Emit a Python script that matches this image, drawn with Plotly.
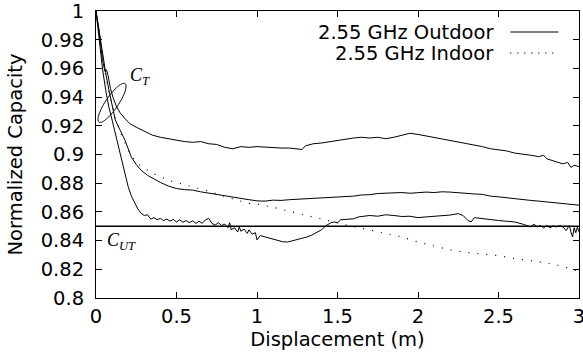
import numpy as np
import plotly.graph_objects as go

# ---------------- data ----------------
out_top_x = [0, 0.02, 0.04, 0.055, 0.065, 0.075, 0.09, 0.105, 0.125, 0.15, 0.18, 0.21, 0.25, 0.3, 0.35, 0.4,
             0.45, 0.5, 0.55, 0.6, 0.65, 0.7, 0.75, 0.8, 0.85, 0.9, 0.95, 1.0, 1.05, 1.1, 1.15, 1.2, 1.25,
             1.28, 1.3, 1.35, 1.4, 1.45, 1.5, 1.55, 1.6, 1.65, 1.7, 1.75, 1.8, 1.85, 1.9, 1.95, 2.0, 2.05,
             2.1, 2.15, 2.2, 2.25, 2.3, 2.35, 2.4, 2.45, 2.5, 2.55, 2.6, 2.65, 2.7, 2.75, 2.78, 2.8, 2.85,
             2.9, 2.93, 2.95, 2.97, 3.0]
out_top_y = [1.0, 0.985, 0.966, 0.958, 0.959, 0.955, 0.946, 0.940, 0.934, 0.929, 0.925, 0.9215, 0.919, 0.916,
             0.9135, 0.912, 0.911, 0.9095, 0.909, 0.9085, 0.909, 0.9075, 0.907, 0.905, 0.904, 0.9055, 0.905,
             0.9055, 0.905, 0.905, 0.9045, 0.9045, 0.904, 0.9035, 0.906, 0.9075, 0.908, 0.909, 0.910, 0.9105,
             0.9115, 0.912, 0.9115, 0.912, 0.911, 0.912, 0.9135, 0.9148, 0.914, 0.913, 0.912, 0.9105, 0.910,
             0.909, 0.9075, 0.9065, 0.9055, 0.904, 0.9035, 0.9025, 0.901, 0.9005, 0.8995, 0.8985, 0.8995,
             0.897, 0.8955, 0.8935, 0.8945, 0.891, 0.8925, 0.8915]

out_mid_x = [0, 0.02, 0.04, 0.06, 0.08, 0.1, 0.12, 0.15, 0.18, 0.2, 0.22, 0.25, 0.28, 0.32, 0.36, 0.4, 0.45,
             0.5, 0.55, 0.6, 0.65, 0.7, 0.75, 0.8, 0.85, 0.9, 0.95, 1.0, 1.05, 1.1, 1.15, 1.2, 1.25, 1.3,
             1.35, 1.4, 1.45, 1.5, 1.55, 1.6, 1.65, 1.7, 1.75, 1.8, 1.85, 1.9, 1.95, 2.0, 2.05, 2.1, 2.15,
             2.2, 2.25, 2.3, 2.35, 2.4, 2.45, 2.5, 2.55, 2.6, 2.65, 2.7, 2.75, 2.8, 2.85, 2.9, 2.95, 3.0]
out_mid_y = [1.0, 0.985, 0.97, 0.957, 0.945, 0.935, 0.924, 0.917, 0.910, 0.904, 0.898, 0.893, 0.889, 0.8855,
             0.8828, 0.8805, 0.878, 0.8763, 0.8755, 0.8752, 0.874, 0.873, 0.8725, 0.8715, 0.870, 0.869,
             0.8685, 0.8677, 0.8675, 0.8682, 0.868, 0.8685, 0.8688, 0.869, 0.8692, 0.8698, 0.8702, 0.8705,
             0.8708, 0.871, 0.8718, 0.872, 0.8728, 0.8729, 0.8732, 0.8735, 0.873, 0.8735, 0.8738, 0.8735,
             0.874, 0.8738, 0.8732, 0.8728, 0.8725, 0.8722, 0.871, 0.8705, 0.8698, 0.869, 0.8685, 0.868,
             0.8675, 0.867, 0.8662, 0.8655, 0.8652, 0.8647]

out_low_x = [0, 0.02, 0.04, 0.06, 0.08, 0.1, 0.115, 0.13, 0.145, 0.16, 0.18, 0.2, 0.22, 0.24, 0.26, 0.28, 0.3,
             0.32, 0.34, 0.36, 0.38, 0.4, 0.42, 0.44, 0.46, 0.48, 0.5, 0.52, 0.54, 0.56, 0.58, 0.6, 0.62,
             0.64, 0.66, 0.68, 0.7, 0.72, 0.74, 0.76, 0.78, 0.8, 0.82, 0.83, 0.84, 0.86, 0.88, 0.89, 0.9,
             0.92, 0.94, 0.95, 0.97, 0.99, 1.0, 1.02, 1.05, 1.08, 1.1, 1.13, 1.16, 1.19, 1.22, 1.25, 1.28,
             1.31, 1.34, 1.37, 1.4, 1.43, 1.46, 1.48, 1.5, 1.52, 1.55, 1.58, 1.6, 1.63, 1.66, 1.7, 1.75,
             1.8, 1.85, 1.9, 1.95, 2.0, 2.05, 2.1, 2.15, 2.2, 2.25, 2.28, 2.31, 2.33, 2.35, 2.38, 2.42,
             2.46, 2.5, 2.55, 2.6, 2.65, 2.68, 2.7, 2.72, 2.74, 2.76, 2.78, 2.8, 2.82, 2.84, 2.86, 2.88,
             2.9, 2.92, 2.94, 2.95, 2.96, 2.97, 2.98, 2.99, 3.0]
out_low_y = [1.0, 0.98, 0.96, 0.945, 0.933, 0.924, 0.917, 0.910, 0.902, 0.894, 0.885, 0.8775, 0.871, 0.866,
             0.862, 0.859, 0.8575, 0.858, 0.855, 0.856, 0.8545, 0.8555, 0.854, 0.855, 0.8535, 0.8548, 0.853,
             0.8545, 0.8528, 0.854, 0.8525, 0.8538, 0.852, 0.8535, 0.852, 0.8545, 0.8555, 0.852, 0.8508,
             0.8525, 0.8505, 0.8515, 0.849, 0.8525, 0.8475, 0.849, 0.846, 0.8495, 0.8465, 0.848, 0.845,
             0.8475, 0.8445, 0.8455, 0.8405, 0.8435, 0.8425, 0.8418, 0.8412, 0.8403, 0.8392, 0.839, 0.8398,
             0.8405, 0.8414, 0.8425, 0.8438, 0.8455, 0.8475, 0.8505, 0.8525, 0.853, 0.8525, 0.8545, 0.8548,
             0.8555, 0.8552, 0.8565, 0.8568, 0.8575, 0.857, 0.858, 0.8575, 0.8568, 0.857, 0.856, 0.8565,
             0.857, 0.857, 0.8578, 0.8588, 0.8575, 0.854, 0.853, 0.856, 0.8555, 0.855, 0.8545, 0.854,
             0.8535, 0.853, 0.8515, 0.8505, 0.8495, 0.8515, 0.8495, 0.8505, 0.8488, 0.8505, 0.849, 0.8502,
             0.8495, 0.8505, 0.8495, 0.847, 0.8505, 0.846, 0.8425, 0.849, 0.8455, 0.8495, 0.846]

indoor_x = [0, 0.02, 0.04, 0.06, 0.08, 0.1, 0.12, 0.15, 0.18, 0.22, 0.26, 0.3, 0.35, 0.4, 0.45, 0.5, 0.55, 0.6,
            0.65, 0.7, 0.75, 0.8, 0.85, 0.9, 0.95, 1.0, 1.1, 1.2, 1.3, 1.4, 1.5, 1.6, 1.7, 1.8, 1.9, 2.0,
            2.1, 2.2, 2.3, 2.4, 2.5, 2.6, 2.7, 2.8, 2.9, 3.0]
indoor_y = [1.0, 0.984, 0.968, 0.955, 0.944, 0.934, 0.925, 0.916, 0.908, 0.899, 0.8935, 0.8905, 0.887, 0.8845,
            0.882, 0.8805, 0.879, 0.8775, 0.8765, 0.8745, 0.8725, 0.8707, 0.869, 0.8675, 0.866, 0.8655,
            0.8632, 0.8605, 0.8577, 0.8548, 0.852, 0.8496, 0.8475, 0.8452, 0.8425, 0.839, 0.8365, 0.8335,
            0.8318, 0.8305, 0.8295, 0.8275, 0.8262, 0.8245, 0.822, 0.8185]

c_ut = 0.85
series_names = ["2.55 GHz Outdoor", "2.55 GHz Indoor"]
x_tickvals = [0, 0.5, 1, 1.5, 2, 2.5, 3]
x_ticktext = ["0", "0.5", "1", "1.5", "2", "2.5", "3"]
y_tickvals = [0.8, 0.82, 0.84, 0.86, 0.88, 0.9, 0.92, 0.94, 0.96, 0.98, 1.0]
y_ticktext = ["0.8", "0.82", "0.84", "0.86", "0.88", "0.9", "0.92", "0.94", "0.96", "0.98", "1"]

FONT = "DejaVu Sans"
FS = 19.5

fig = go.Figure()
for xs, ys in [(out_top_x, out_top_y), (out_mid_x, out_mid_y), (out_low_x, out_low_y)]:
    fig.add_trace(go.Scatter(x=xs, y=ys, mode="lines", line=dict(color="black", width=1),
                             showlegend=False, hoverinfo="skip"))
fig.add_trace(go.Scatter(x=indoor_x, y=indoor_y, mode="lines",
                         line=dict(color="black", width=1.2, dash="1px,8px"),
                         showlegend=False, hoverinfo="skip"))

fig.add_hline(y=c_ut, line=dict(color="black", width=1.5))

# ellipse marking C_T (annotation)
px_per_x = 482.3 / 3.0
px_per_y = 286.7 / 0.2
cx, cy = 0.0995, 0.936
a, b, th = 23.2, 6.3, np.deg2rad(55.9)
t = np.linspace(0, 2 * np.pi, 73)
ex = a * np.cos(t) * np.cos(th) - b * np.sin(t) * np.sin(th)
ey = a * np.cos(t) * np.sin(th) + b * np.sin(t) * np.cos(th)
pts = [(cx + u / px_per_x, cy + v / px_per_y) for u, v in zip(ex, ey)]
path = "M " + " L ".join(f"{p[0]:.5f},{p[1]:.5f}" for p in pts) + " Z"
fig.add_shape(type="path", path=path, xref="x", yref="y", line=dict(color="black", width=1))

fig.add_annotation(x=0.197, y=0.9547, xref="x", yref="y", xanchor="left", yanchor="middle",
                   text="<i>C</i><sub><i>T</i></sub>", showarrow=False,
                   font=dict(family="Liberation Serif", size=18, color="black"))
fig.add_annotation(x=0.058, y=0.8392, xref="x", yref="y", xanchor="left", yanchor="middle",
                   text="<i>C</i><sub><i>UT</i></sub>", showarrow=False,
                   font=dict(family="Liberation Serif", size=18, color="black"))

# custom legend (gnuplot style: text, then line sample)
leg_y = [0.9268, 0.8535]
leg_dash = ["solid", "1px,6px"]
for name, ly, dsh in zip(series_names, leg_y, leg_dash):
    fig.add_annotation(x=0.8288, y=ly, xref="paper", yref="paper", xanchor="right", yanchor="middle",
                       text=name, showarrow=False, font=dict(family=FONT, size=FS, color="black"))
    fig.add_shape(type="line", xref="paper", yref="paper", x0=0.8578, x1=0.9572, y0=ly, y1=ly,
                  line=dict(color="black", width=1.2, dash=dsh))

axis_common = dict(showline=True, linecolor="black", linewidth=1, mirror="ticks", ticks="inside",
                   ticklen=6, tickcolor="black", tickwidth=1, showgrid=False, zeroline=False,
                   ticklabeloverflow="allow",
                   tickfont=dict(family=FONT, size=FS, color="black"))
fig.update_xaxes(range=[0, 3], tickvals=x_tickvals, ticktext=x_ticktext,
                 title=dict(text="Displacement (m)", font=dict(family=FONT, size=FS, color="black"),
                            standoff=3),
                 ticklabelstandoff=1, **axis_common)
fig.update_yaxes(range=[0.8, 1.0], tickvals=y_tickvals, ticktext=y_ticktext,
                 title=dict(text="Normalized Capacity", font=dict(family=FONT, size=FS, color="black"),
                            standoff=12),
                 ticklabelstandoff=7, **axis_common)

fig.update_layout(width=583, height=360, margin=dict(l=96, r=4, t=11, b=62, autoexpand=False),
                  plot_bgcolor="white", paper_bgcolor="white", showlegend=False)

fig.write_html("out.html")
